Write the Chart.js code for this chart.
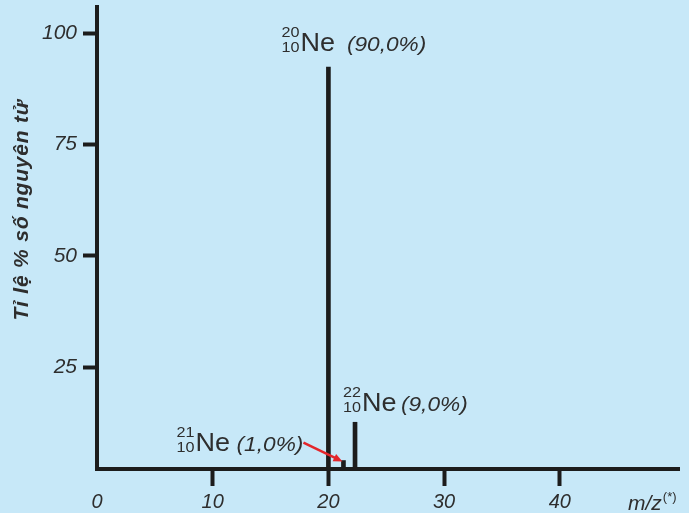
<!DOCTYPE html>
<html><head><meta charset="utf-8">
<script src="https://cdn.jsdelivr.net/npm/chart.js@4/dist/chart.umd.min.js"></script>
<style>html,body{margin:0;padding:0;background:#c7e8f8;overflow:hidden;}canvas{display:block;}</style>
</head><body>
<canvas id="c" width="689" height="513"></canvas>
<script>
// ---- data ----
const isotopeSymbols = ['Ne', 'Ne', 'Ne'];
const massNumbers = [20, 21, 22];
const atomicNumbers = [10, 10, 10];
const mzPositions = [20, 21.3, 22.3];
const barHeights = [92.4, 4.0, 12.6];
const abundanceLabels = ['(90,0%)', '(1,0%)', '(9,0%)'];
const xTickValues = [0, 10, 20, 30, 40];
const yTickValues = [25, 50, 75, 100];
const xRange = [0, 50.3];
const yRange = [2.1, 105.9];
const yTitle = 'Tỉ lệ % số nguyên tử';
const xTitle = 'm/z';
const xTitleSup = '(*)';

// ---- style ----
const FAM = '"Liberation Sans", Arial, Helvetica, sans-serif';
const BG = '#c7e8f8';
const LINE = '#1c1c1c';
const TEXT = '#2e2e2e';
const RED = '#e3262b';
// label offsets (px) relative to top of each bar
const labelOffsets = [[-47, -16], [-167, -10], [-12, -11]];
const labelGaps = [11, 6, 4];
const arrowFrom = [-40, -18];
const arrowTo = [-1, 1];
const STRETCH = 1.08;

const bgPlugin = {
  id: 'bg',
  beforeDraw(chart) {
    const c = chart.ctx;
    c.save(); c.fillStyle = BG; c.fillRect(0, 0, chart.width, chart.height); c.restore();
  }
};

function drawIsotope(ctx, x, base, i) {
  ctx.save();
  ctx.translate(x, base);
  ctx.scale(STRETCH, 1);
  ctx.fillStyle = TEXT;
  ctx.textBaseline = 'alphabetic';
  ctx.font = `15px ${FAM}`;
  const m = String(massNumbers[i]), z = String(atomicNumbers[i]);
  const w = Math.max(ctx.measureText(m).width, ctx.measureText(z).width);
  ctx.textAlign = 'right';
  ctx.fillText(m, w, -14);
  ctx.fillText(z, w, 1);
  ctx.textAlign = 'left';
  ctx.font = `25px ${FAM}`;
  const nx = w + 1;
  ctx.fillText(isotopeSymbols[i], nx, 0);
  const wNe = ctx.measureText(isotopeSymbols[i]).width;
  ctx.font = `italic 21px ${FAM}`;
  ctx.fillText(abundanceLabels[i], nx + wNe + labelGaps[i], 0);
  ctx.restore();
}

const annoPlugin = {
  id: 'anno',
  afterDatasetsDraw(chart) {
    const ctx = chart.ctx, xs = chart.scales.x, ys = chart.scales.y, ca = chart.chartArea;
    ctx.save();
    mzPositions.forEach((v, i) => {
      const px = xs.getPixelForValue(v), py = ys.getPixelForValue(barHeights[i]);
      drawIsotope(ctx, px + labelOffsets[i][0], py + labelOffsets[i][1], i);
    });
    // red arrow to the 21Ne peak
    const ax = xs.getPixelForValue(mzPositions[1]), ay = ys.getPixelForValue(barHeights[1]);
    const x1 = ax + arrowFrom[0], y1 = ay + arrowFrom[1], x2 = ax + arrowTo[0], y2 = ay + arrowTo[1];
    const ang = Math.atan2(y2 - y1, x2 - x1);
    ctx.strokeStyle = RED; ctx.fillStyle = RED; ctx.lineWidth = 2.5;
    ctx.beginPath(); ctx.moveTo(x1, y1);
    ctx.lineTo(x2 - 7 * Math.cos(ang), y2 - 7 * Math.sin(ang)); ctx.stroke();
    ctx.beginPath();
    ctx.moveTo(x2, y2);
    ctx.lineTo(x2 - 9 * Math.cos(ang) + 4 * Math.sin(ang), y2 - 9 * Math.sin(ang) - 4 * Math.cos(ang));
    ctx.lineTo(x2 - 9 * Math.cos(ang) - 4 * Math.sin(ang), y2 - 9 * Math.sin(ang) + 4 * Math.cos(ang));
    ctx.closePath(); ctx.fill();
    // y title
    ctx.save();
    ctx.translate(28, ca.top + 203);
    ctx.rotate(-Math.PI / 2);
    ctx.textAlign = 'center'; ctx.textBaseline = 'alphabetic';
    ctx.font = `italic bold 21px ${FAM}`;
    try { ctx.letterSpacing = '0.8px'; } catch (e) {}
    ctx.fillStyle = TEXT;
    ctx.fillText(yTitle, 0, 0);
    ctx.restore();
    // x title
    ctx.textAlign = 'left'; ctx.textBaseline = 'alphabetic';
    ctx.font = `italic 21px ${FAM}`;
    ctx.fillStyle = TEXT;
    const tx = ca.right - 51, ty = ca.bottom + 41;
    ctx.fillText(xTitle, tx, ty);
    const wx = ctx.measureText(xTitle).width;
    ctx.font = `13px ${FAM}`;
    ctx.fillText(xTitleSup, tx + wx + 1, ty - 9);
    ctx.restore();
  }
};

new Chart(document.getElementById('c'), {
  type: 'bar',
  data: {
    datasets: [{
      data: mzPositions.map((x, i) => ({ x: x, y: barHeights[i] })),
      backgroundColor: LINE,
      borderWidth: 0,
      barThickness: 4,
      grouped: false
    }]
  },
  options: {
    responsive: false,
    animation: false,
    devicePixelRatio: 1,
    layout: { padding: { top: 7, right: 10, left: 0, bottom: 0 } },
    plugins: { legend: { display: false }, tooltip: { enabled: false } },
    scales: {
      x: {
        type: 'linear',
        min: xRange[0], max: xRange[1],
        offset: false,
        afterBuildTicks: s => { s.ticks = xTickValues.map(v => ({ value: v })); },
        afterFit: s => { s.height = 44; s.paddingLeft = 0; s.paddingRight = 0; },
        grid: {
          offset: false,
          drawOnChartArea: false,
          drawTicks: true,
          tickLength: 17,
          tickWidth: 4,
          tickColor: c => (c.tick && c.tick.value === 0) ? 'rgba(0,0,0,0)' : LINE
        },
        border: { display: true, color: LINE, width: 4 },
        ticks: {
          color: TEXT, padding: 4, maxRotation: 0, autoSkip: false,
          font: { family: FAM, size: 20, style: 'italic' }
        }
      },
      y: {
        min: yRange[0], max: yRange[1],
        afterBuildTicks: s => { s.ticks = yTickValues.map(v => ({ value: v })); },
        afterFit: s => { s.width = 97; s.paddingTop = 0; s.paddingBottom = 0; },
        grid: {
          drawOnChartArea: false,
          drawTicks: true,
          tickLength: 14,
          tickWidth: 4,
          tickColor: LINE
        },
        border: { display: true, color: LINE, width: 4 },
        ticks: {
          color: TEXT, padding: 6,
          font: { family: FAM, size: 21, style: 'italic' }
        }
      }
    }
  },
  plugins: [bgPlugin, annoPlugin]
});
</script>
</body></html>
